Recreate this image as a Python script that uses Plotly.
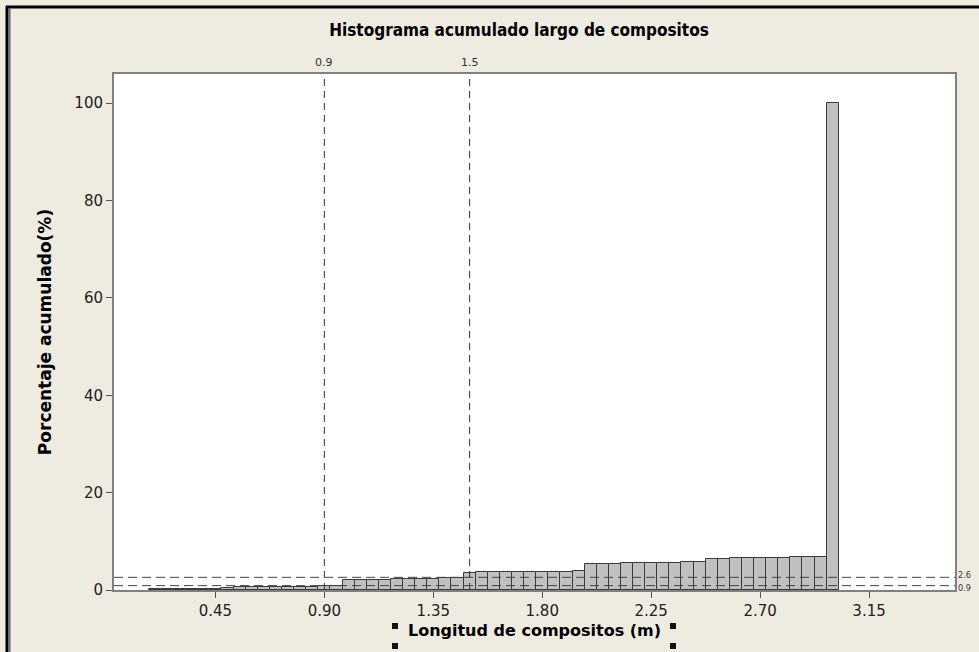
import plotly.graph_objects as go

# bin centres (m)
bin_centers = [0.20, 0.25, 0.30, 0.35, 0.40, 0.45, 0.50, 0.55, 0.60, 0.65,
               0.70, 0.75, 0.80, 0.85, 0.90, 0.95, 1.00, 1.05, 1.10, 1.15,
               1.20, 1.25, 1.30, 1.35, 1.40, 1.45, 1.50, 1.55, 1.60, 1.65,
               1.70, 1.75, 1.80, 1.85, 1.90, 1.95, 2.00, 2.05, 2.10, 2.15,
               2.20, 2.25, 2.30, 2.35, 2.40, 2.45, 2.50, 2.55, 2.60, 2.65,
               2.70, 2.75, 2.80, 2.85, 2.90, 2.95, 3.00]
# cumulative percentage
cum_pct = [0.15, 0.15, 0.15, 0.15, 0.15, 0.15, 0.45, 0.55, 0.55, 0.55,
           0.6, 0.6, 0.6, 0.6, 0.9, 0.9, 2.0, 2.0, 2.0, 2.0,
           2.25, 2.25, 2.25, 2.25, 2.45, 2.45, 3.4, 3.6, 3.6, 3.6,
           3.6, 3.6, 3.8, 3.8, 3.8, 4.0, 5.3, 5.3, 5.3, 5.5,
           5.5, 5.5, 5.5, 5.5, 5.7, 5.7, 6.4, 6.4, 6.6, 6.6,
           6.6, 6.6, 6.6, 6.8, 6.8, 6.8, 100.0]
bin_width = 0.05

x_tick_vals = [0.45, 0.90, 1.35, 1.80, 2.25, 2.70, 3.15]
x_tick_text = ["0.45", "0.90", "1.35", "1.80", "2.25", "2.70", "3.15"]
y_tick_vals = [0, 20, 40, 60, 80, 100]

ref_x = [0.9, 1.5]
ref_x_labels = ["0.9", "1.5"]
ref_y = [2.6, 0.9]
ref_y_labels = ["2.6", "0.9"]

title = "Histograma acumulado largo de compositos"
x_title = "Longitud de compositos (m)"
y_title = "Porcentaje acumulado(%)"

BG = "#EEEBE0"
FONT = "DejaVu Sans"

# plot area in pixels
L, R, T, B = 114, 955, 74, 590
W, H = 979, 652


def px(xp):
    return (xp - L) / (R - L)


def py(yp):
    return (B - yp) / (B - T)


fig = go.Figure()
fig.add_trace(go.Bar(
    x=bin_centers, y=cum_pct, width=bin_width,
    marker=dict(color="#C0C0C0", line=dict(color="#3A3A3A", width=1)),
    showlegend=False, hoverinfo="x+y",
))

shapes = []
for xv in ref_x:
    shapes.append(dict(type="line", xref="x", yref="paper", x0=xv, x1=xv, y0=0, y1=1,
                       line=dict(color="#333333", width=1, dash="7px,5px")))
for yv in ref_y:
    shapes.append(dict(type="line", xref="paper", yref="y", x0=0, x1=1, y0=yv, y1=yv,
                       line=dict(color="#444444", width=1, dash="9px,5px")))

# outer frame (top + left)
shapes.append(dict(type="line", xref="paper", yref="paper", x0=px(6), x1=px(979),
                   y0=py(7), y1=py(7), line=dict(color="#000000", width=3), layer="above"))
shapes.append(dict(type="line", xref="paper", yref="paper", x0=px(7), x1=px(7),
                   y0=py(6), y1=py(652), line=dict(color="#000000", width=3), layer="above"))
shapes.append(dict(type="line", xref="paper", yref="paper", x0=px(9.5), x1=px(9.5),
                   y0=py(8), y1=py(652), line=dict(color="#5B6B7C", width=2), layer="above"))

# selection handles around x-axis title
for (x0, x1) in [(392, 398), (670, 676)]:
    for (y0, y1) in [(623, 629), (643, 649)]:
        shapes.append(dict(type="rect", xref="paper", yref="paper",
                           x0=px(x0), x1=px(x1), y0=py(y1), y1=py(y0),
                           fillcolor="#111111", line=dict(width=0)))

annotations = []
for xv, lab in zip(ref_x, ref_x_labels):
    annotations.append(dict(x=xv, y=1, xref="x", yref="paper", text=lab, showarrow=False,
                            xanchor="center", yanchor="bottom", yshift=3,
                            font=dict(family=FONT, size=11, color="#333333")))
for yv, lab, anc in zip(ref_y, ref_y_labels, ["bottom", "top"]):
    annotations.append(dict(x=1, y=yv, xref="paper", yref="y", text=lab, showarrow=False,
                            xanchor="left", yanchor=anc, xshift=1,
                            yshift=-5 if anc == "bottom" else 5,
                            font=dict(family="DejaVu Sans Condensed", size=9, color="#333333")))

fig.update_layout(
    width=W, height=H,
    margin=dict(l=L, r=W - R, t=T, b=H - B, pad=0),
    paper_bgcolor=BG, plot_bgcolor="#FFFFFF",
    title=dict(text="<b>" + title + "</b>", x=519 / W, xanchor="center",
               y=1 - 30 / H, yanchor="middle",
               font=dict(family="DejaVu Sans Condensed", size=17, color="#000000")),
    bargap=0,
    shapes=shapes,
    annotations=annotations,
    xaxis=dict(
        range=[0.031, 3.505], tickmode="array", tickvals=x_tick_vals, ticktext=x_tick_text,
        ticks="outside", ticklen=6, tickcolor="#555555", showgrid=False, zeroline=False,
        showline=True, linecolor="#808080", linewidth=2, mirror=True,
        tickfont=dict(family=FONT, size=15, color="#222222"),
        title=dict(text="<b>" + x_title + "</b>", standoff=6,
                   font=dict(family=FONT, size=16, color="#000000")),
    ),
    yaxis=dict(
        range=[0, 106], tickmode="array", tickvals=y_tick_vals,
        ticks="outside", ticklen=6, tickcolor="#555555", showgrid=False, zeroline=False,
        showline=True, linecolor="#808080", linewidth=2, mirror=True,
        tickfont=dict(family=FONT, size=15, color="#222222"),
        title=dict(text="<b>" + y_title + "</b>", standoff=18,
                   font=dict(family=FONT, size=17, color="#000000")),
    ),
)

fig.write_html("out.html", config={"displayModeBar": False},
               post_script="document.body.style.margin='0';document.body.style.overflow='hidden';")
